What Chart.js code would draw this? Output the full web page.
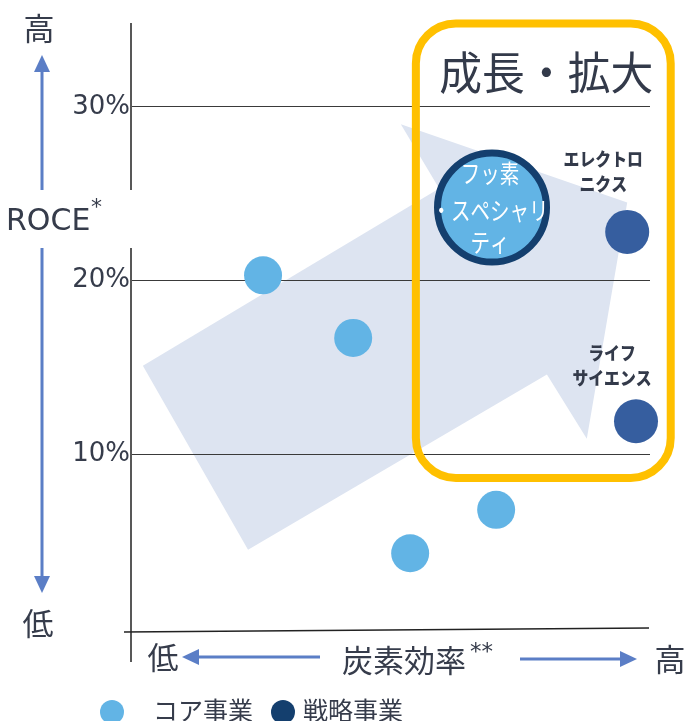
<!DOCTYPE html>
<html><head><meta charset="utf-8">
<script src="https://cdn.jsdelivr.net/npm/chart.js@4/dist/chart.umd.min.js"></script>
<style>html,body{margin:0;padding:0;background:#fff;}#wrap{width:687px;height:721px;position:relative;}</style>
</head><body><div id="wrap"><canvas id="c"></canvas></div>
<script>
// ---- data ----
const seriesNames = ['コア事業', '戦略事業'];
const coreX = [25.3, 42.7, 53.7, 70.3];
const coreY = [20.3, 16.7, 4.3, 6.8];
const strategicNames = ['フッ素・スペシャリティ', 'エレクトロニクス', 'ライフサイエンス'];
const strategicX = [69.5, 95.6, 97.3];
const strategicY = [24.2, 22.8, 11.9];
const strategicLabelLines = [['フッ素', '・スペシャリ', 'ティ'], ['エレクトロ', 'ニクス'], ['ライフ', 'サイエンス']];
const yTicks = [10, 20, 30];
const yAxisTitle = 'ROCE';
const xAxisTitle = '炭素効率';
const highLabel = '高';
const lowLabel = '低';
const zoneTitle = '成長・拡大';
// decorative arrow & highlighted zone, in data units
const arrowX = [2.1, 59.3, 51.9, 95.6, 87.8, 80.1, 22.4];
const arrowY = [15.1, 25.3, 29.0, 24.5, 10.9, 14.6, 4.5];
const zoneX = [54.8, 104.0];
const zoneY = [8.64, 34.8];

const C_TEXT = '#363c4b';
const C_CORE = '#62b4e5';
const C_STRAT = '#365e9f';
const C_NAVY = '#143f6e';
const C_BLUEARROW = '#5b7ec6';
const JP = '"Noto Sans CJK JP", "DejaVu Sans", sans-serif';
const LAT = '"DejaVu Sans", "Noto Sans CJK JP", sans-serif';

function arrowHead(ctx, x, y, dx, dy, len, half) {
  ctx.beginPath();
  ctx.moveTo(x, y);
  ctx.lineTo(x - dx * len - dy * half, y - dy * len + dx * half);
  ctx.lineTo(x - dx * len + dy * half, y - dy * len - dx * half);
  ctx.closePath();
  ctx.fill();
}

const decor = {
  id: 'decor',
  beforeDraw(chart) {
    const {ctx} = chart;
    const xs = chart.scales.x, ys = chart.scales.y;
    ctx.save();
    ctx.fillStyle = '#fff';
    ctx.fillRect(0, 0, chart.width, chart.height);
    ctx.fillStyle = '#dde4f1';
    ctx.beginPath();
    arrowX.forEach((v, i) => {
      const px = xs.getPixelForValue(v), py = ys.getPixelForValue(arrowY[i]);
      if (i === 0) ctx.moveTo(px, py); else ctx.lineTo(px, py);
    });
    ctx.closePath();
    ctx.fill();
    ctx.restore();
  },
  afterDraw(chart) {
    const {ctx, chartArea: ca} = chart;
    const xs = chart.scales.x, ys = chart.scales.y;
    const y0 = ys.getPixelForValue(0);
    ctx.save();
    // axes lines
    ctx.strokeStyle = '#222';
    ctx.lineWidth = 1.5;
    const ax = ca.left - 1;
    ctx.beginPath();
    ctx.moveTo(ax, ca.top + 3); ctx.lineTo(ax, 190);
    ctx.moveTo(ax, 248); ctx.lineTo(ax, y0 + 34);
    ctx.stroke();
    ctx.beginPath();
    ctx.moveTo(ca.left - 8, y0 + 4); ctx.lineTo(ca.right - 1, y0);
    ctx.stroke();

    // yellow zone
    const zl = xs.getPixelForValue(zoneX[0]), zr = xs.getPixelForValue(zoneX[1]);
    const zt = ys.getPixelForValue(zoneY[1]), zb = ys.getPixelForValue(zoneY[0]);
    ctx.strokeStyle = '#ffc000';
    ctx.lineWidth = 8;
    ctx.beginPath();
    ctx.roundRect(zl, zt, zr - zl, zb - zt, 40);
    ctx.stroke();
    ctx.fillStyle = '#333a4a';
    ctx.font = '45px ' + JP;
    ctx.textAlign = 'center';
    ctx.textBaseline = 'middle';
    ctx.fillText(zoneTitle, (zl + zr) / 2 + 3, 73, 214);

    // point labels for strategic businesses
    const meta = chart.getDatasetMeta(1);
    meta.data.forEach((pt, i) => {
      const lines = strategicLabelLines[i];
      if (i === 0) {
        ctx.fillStyle = '#fff';
        ctx.font = '25px ' + JP;
        const offs = [-34, 3, 35];
        lines.forEach((t, k) => {
          ctx.save();
          ctx.translate(pt.x - 2, pt.y + offs[k]);
          ctx.scale(0.78, 1);
          ctx.fillText(t, 0, 0);
          ctx.restore();
        });
      } else {
        ctx.fillStyle = '#333a4a';
        ctx.font = '900 18px ' + JP;
        const offs = i === 1 ? [-73, -48] : [-68, -43];
        lines.forEach((t, k) => {
          ctx.save();
          ctx.translate(pt.x - 24, pt.y + offs[k]);
          ctx.scale(0.88, 1);
          ctx.fillText(t, 0, 0);
          ctx.restore();
        });
      }
    });

    // y axis arrow & labels
    ctx.strokeStyle = C_BLUEARROW;
    ctx.fillStyle = C_BLUEARROW;
    ctx.lineWidth = 3;
    const yx = 42;
    ctx.beginPath();
    ctx.moveTo(yx, 68); ctx.lineTo(yx, 190);
    ctx.moveTo(yx, 248); ctx.lineTo(yx, 580);
    ctx.stroke();
    arrowHead(ctx, yx, 55, 0, -1, 17, 8);
    arrowHead(ctx, yx, 593, 0, 1, 17, 8);
    ctx.fillStyle = C_TEXT;
    ctx.font = '31px ' + JP;
    ctx.textAlign = 'center';
    ctx.fillText(highLabel, 39, 28);
    ctx.fillText(lowLabel, 38, 623);
    ctx.textAlign = 'left';
    ctx.font = '30px ' + LAT;
    ctx.fillText(yAxisTitle, 6, 222);
    ctx.font = '22px ' + LAT;
    ctx.fillText('*', 91, 208);

    // x axis arrow & labels
    ctx.strokeStyle = C_BLUEARROW;
    ctx.fillStyle = C_BLUEARROW;
    ctx.beginPath();
    ctx.moveTo(195, 657); ctx.lineTo(320, 657);
    ctx.moveTo(520, 659); ctx.lineTo(623, 659);
    ctx.stroke();
    arrowHead(ctx, 182, 657, -1, 0, 17, 8);
    arrowHead(ctx, 637, 659, 1, 0, 17, 8);
    ctx.fillStyle = C_TEXT;
    ctx.font = '31px ' + JP;
    ctx.textAlign = 'center';
    ctx.fillText(lowLabel, 163, 657);
    ctx.fillText(highLabel, 670, 659);
    ctx.textAlign = 'left';
    ctx.fillText(xAxisTitle, 342, 660);
    ctx.font = '23px ' + LAT;
    ctx.fillText('**', 470, 653);

    // legend
    const legendColors = [C_CORE, C_NAVY];
    const legendPos = [[112, 153], [283, 303]];
    ctx.font = '25px ' + JP;
    seriesNames.forEach((n, i) => {
      ctx.fillStyle = legendColors[i];
      ctx.beginPath();
      ctx.arc(legendPos[i][0], 712, 12, 0, Math.PI * 2);
      ctx.fill();
      ctx.fillStyle = C_TEXT;
      ctx.fillText(n, legendPos[i][1], 710);
    });
    ctx.restore();
  }
};

new Chart(document.getElementById('c'), {
  type: 'scatter',
  data: {
    datasets: [
      {
        label: seriesNames[0],
        data: coreX.map((x, i) => ({x, y: coreY[i]})),
        backgroundColor: C_CORE,
        borderWidth: 0,
        pointRadius: 19,
        clip: false
      },
      {
        label: seriesNames[1],
        data: strategicX.map((x, i) => ({x, y: strategicY[i], name: strategicNames[i]})),
        backgroundColor: [C_CORE, C_STRAT, C_STRAT],
        borderColor: [C_NAVY, C_STRAT, C_STRAT],
        borderWidth: [7, 0, 0],
        pointRadius: [54.5, 22, 22],
        clip: false
      }
    ]
  },
  options: {
    responsive: true,
    maintainAspectRatio: false,
    animation: false,
    devicePixelRatio: 1,
    events: [],
    layout: {autoPadding: false, padding: {left: 0, right: 37, top: 20, bottom: 93}},
    plugins: {legend: {display: false}, tooltip: {enabled: false}},
    scales: {
      x: {type: 'linear', min: 0, max: 100, display: false},
      y: {
        type: 'linear', min: 0, max: 35,
        afterBuildTicks: s => { s.ticks = yTicks.map(v => ({value: v})); },
        afterFit: s => { s.width = 132; },
        grid: {color: '#3a3a3a', lineWidth: 1, drawTicks: false},
        border: {display: false},
        ticks: {
          callback: v => v + '%',
          font: {family: '"DejaVu Sans", sans-serif', size: 26},
          color: C_TEXT,
          padding: 2
        }
      }
    }
  },
  plugins: [decor]
});
</script></body></html>
